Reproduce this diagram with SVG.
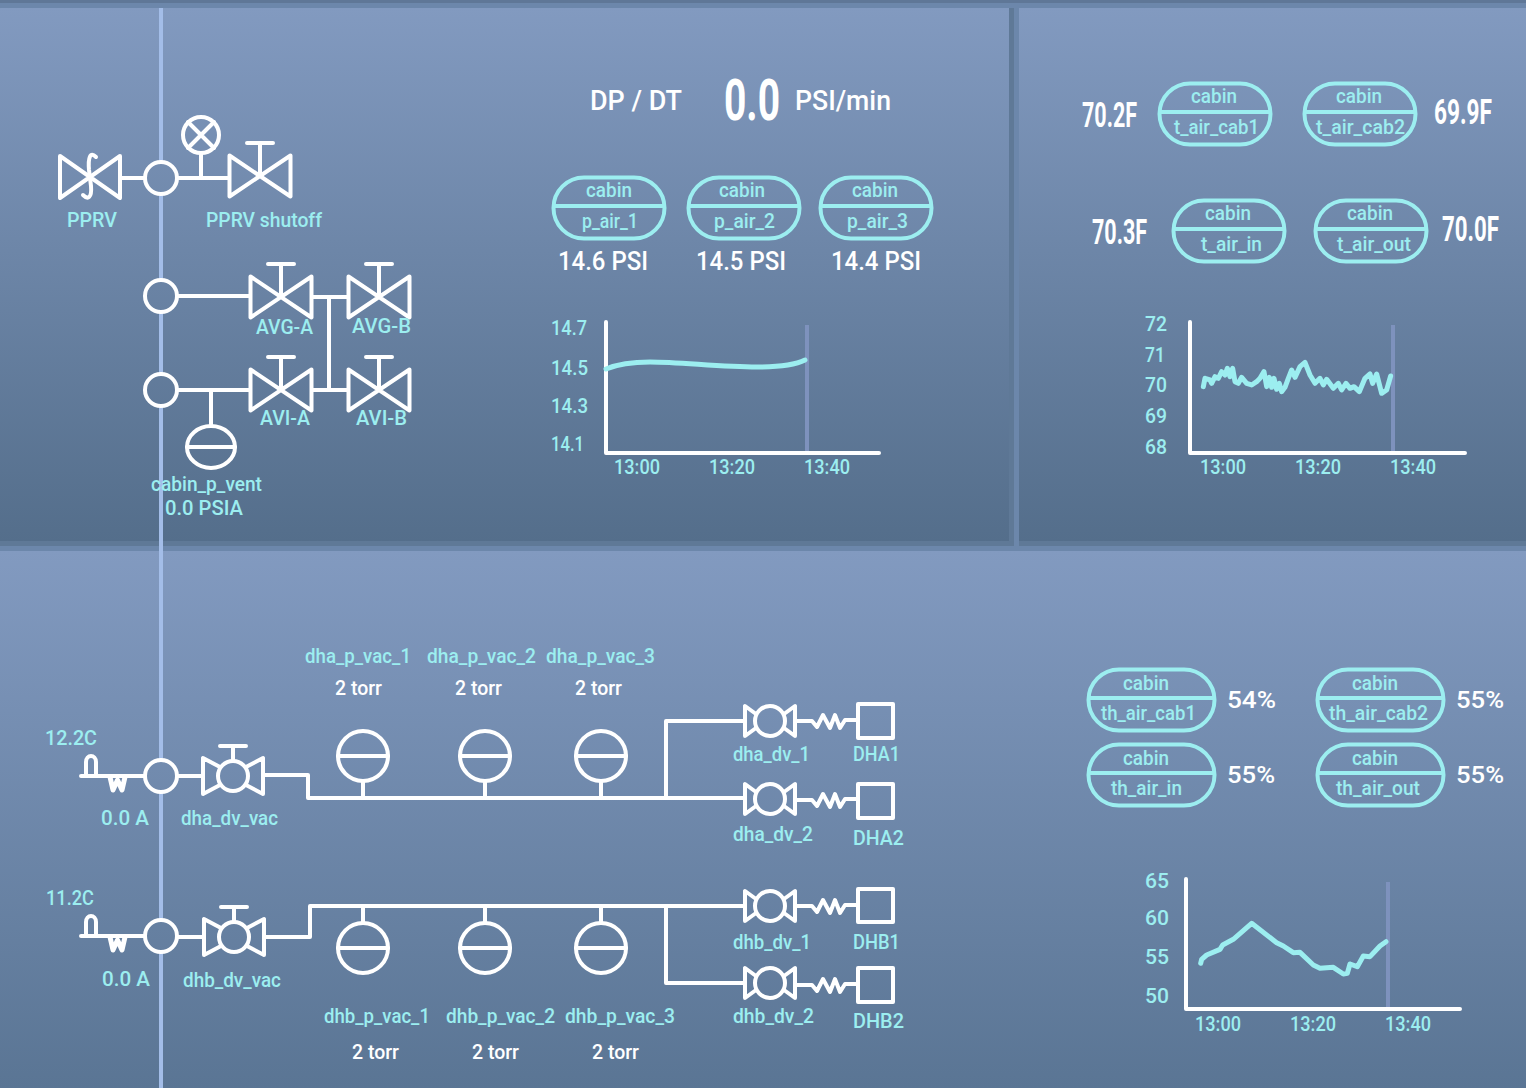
<svg xmlns="http://www.w3.org/2000/svg" width="1526" height="1088" viewBox="0 0 1526 1088">
<style>
text{font-family:Roboto,"Liberation Sans",sans-serif;font-size:20px;font-weight:500;fill:#9ceef0}
.w{fill:#fff}
.p{fill:none;stroke:#fff;stroke-width:4;stroke-linejoin:round;stroke-linecap:round}
.c{fill:none;stroke:#9ceef0;stroke-width:4}
.bus{fill:none;stroke:#a3bde8;stroke-width:4}
.cur{fill:none;stroke:#7e92bd;stroke-width:4}
.tr{fill:none;stroke:#9ceef0;stroke-linejoin:round;stroke-linecap:round}
.t25{font-size:25px}.t28{font-size:28px}.t30{font-size:35px;font-weight:700}.t52{font-size:58px;font-weight:700}.t24{font-size:24px}
</style>
<defs>
<linearGradient id="g1" x1="0" y1="0" x2="0" y2="1"><stop offset="0" stop-color="#829ac0"/><stop offset="1" stop-color="#546e8b"/></linearGradient>
<linearGradient id="g2" x1="0" y1="0" x2="0" y2="1"><stop offset="0" stop-color="#829ac0"/><stop offset="1" stop-color="#5a7594"/></linearGradient>
<g id="gate" class="p"><path d="M-30.5,-20.5 L30.5,20.5 V-20.5 L-30.5,20.5 Z M0,0 V-33 M-13,-33 H13"/></g>
<g id="ball" class="p"><circle r="15"/><path d="M-13,-9 L-30,-18 V18 L-13,9 M13,-9 L30,-18 V18 L13,9 M0,-15 V-30 M-13,-30 H13"/></g>
<g id="ball2" class="p"><circle r="15"/><path d="M-14,-7 L-25,-15 V15 L-14,7 M14,-7 L25,-15 V15 L14,7"/></g>
<g id="spring" class="p"><path d="M0,0 H16 L21,6 L27,-6 L34,7 L39,-6 L44,7 L49,-1 H62"/></g>
<g id="gauge" class="p"><circle r="25"/><path d="M-25,0 H25"/></g>
<g id="heat" class="p"><path d="M0,0 H64 M5,0 V-14 C5,-22 15,-22 15,-14 V0"/><path stroke-width="5" stroke-linecap="butt" d="M29,1 L32,14 L36.5,4 L41,14 L44,1"/></g>
<g id="pill" class="c"><rect x="1.5" y="1.5" width="111" height="61" rx="30.5"/><path d="M1,30 H113"/></g>
<g id="pillw" class="c"><rect x="1.5" y="1.5" width="126" height="61" rx="30.5"/><path d="M1,30 H128"/></g>
</defs>

<g id="background">
<rect width="1526" height="1088" fill="#6c87ab"/>
<rect y="0" width="1526" height="3" fill="#5f7797"/>
<rect x="0" y="8" width="1014" height="538" fill="#5f7997"/>
<rect x="1019" y="8" width="507" height="538" fill="#5f7997"/>
<rect x="0" y="8" width="1009" height="533" fill="url(#g1)"/>
<rect x="1019" y="8" width="507" height="533" fill="url(#g1)"/>
<rect x="0" y="551" width="1526" height="537" fill="url(#g2)"/>
</g>

<g id="connectors">
<path class="bus" d="M161,8 V162 M161,194 V280 M161,312 V374 M161,406 V760 M161,792 V920 M161,952 V1088"/>
<path class="p" d="M121,178 H145 M177,178 H229 M201,153 V178 M177,296 H250 M313,297 H348 M329,297 V390 M177,390 H250 M313,390 H348 M211,390 V426"/>
<path class="p" d="M177,776 H203 M265,775 H308 V798 H744 M363,782 V798 M485,782 V798 M601,782 V798 M666,798 V721 H744"/>
<path class="p" d="M177,937 H204 M266,937 H310 V906 H744 M363,906 V922 M485,906 V922 M601,906 V922 M666,906 V983 H744"/>
</g>

<g id="cabin-junctions" class="p">
<circle cx="161" cy="178" r="16"/><circle cx="161" cy="296" r="16"/><circle cx="161" cy="390" r="16"/>
<circle cx="161" cy="776" r="16"/><circle cx="161" cy="936" r="16"/>
</g>

<g id="PPRV"><g class="p"><path d="M60,156 L120,198 V156 L60,198 Z"/><path d="M96,157 C90,151 88,158 89,170 L91,186 C92,198 88,200 83,195"/></g><text lengthAdjust="spacingAndGlyphs" x="67" y="227" textLength="50">PPRV</text></g>
<g id="pprv-indicator" class="p"><circle cx="201" cy="135" r="18"/><path d="M188,122 L214,148 M214,122 L188,148"/></g>
<g id="PPRV-shutoff"><use href="#gate" x="260" y="176"/><text lengthAdjust="spacingAndGlyphs" x="206" y="227" textLength="116">PPRV shutoff</text></g>
<g id="AVG-A"><use href="#gate" x="281" y="297"/><text lengthAdjust="spacingAndGlyphs" x="256" y="334" textLength="57">AVG-A</text></g>
<g id="AVG-B"><use href="#gate" x="379" y="297"/><text lengthAdjust="spacingAndGlyphs" x="352" y="333" textLength="59">AVG-B</text></g>
<g id="AVI-A"><use href="#gate" x="281" y="390"/><text lengthAdjust="spacingAndGlyphs" x="260" y="425" textLength="50">AVI-A</text></g>
<g id="AVI-B"><use href="#gate" x="379" y="390"/><text lengthAdjust="spacingAndGlyphs" x="356" y="425" textLength="51">AVI-B</text></g>
<g id="cabin_p_vent"><g class="p"><ellipse cx="211" cy="447" rx="24" ry="21"/><path d="M187,447 H235"/></g><text lengthAdjust="spacingAndGlyphs" x="151" y="491" textLength="111">cabin_p_vent</text><text lengthAdjust="spacingAndGlyphs" x="165" y="515" textLength="78">0.0 PSIA</text></g>

<g id="dpdt">
<text lengthAdjust="spacingAndGlyphs" class="w t28" x="590" y="110" textLength="92">DP / DT</text>
<text lengthAdjust="spacingAndGlyphs" class="w t52" x="724" y="120" textLength="56">0.0</text>
<text lengthAdjust="spacingAndGlyphs" class="w t28" x="795" y="110" textLength="96">PSI/min</text>
</g>

<g id="p_air_1"><use href="#pill" x="552" y="176"/><text lengthAdjust="spacingAndGlyphs" x="586" y="197" textLength="46">cabin</text><text lengthAdjust="spacingAndGlyphs" x="582" y="228" textLength="56">p_air_1</text><text lengthAdjust="spacingAndGlyphs" class="w t25" x="558" y="270" textLength="90">14.6 PSI</text></g>
<g id="p_air_2"><use href="#pill" x="687" y="176"/><text lengthAdjust="spacingAndGlyphs" x="719" y="197" textLength="46">cabin</text><text lengthAdjust="spacingAndGlyphs" x="714" y="228" textLength="61">p_air_2</text><text lengthAdjust="spacingAndGlyphs" class="w t25" x="696" y="270" textLength="90">14.5 PSI</text></g>
<g id="p_air_3"><use href="#pill" x="819" y="176"/><text lengthAdjust="spacingAndGlyphs" x="852" y="197" textLength="46">cabin</text><text lengthAdjust="spacingAndGlyphs" x="847" y="228" textLength="61">p_air_3</text><text lengthAdjust="spacingAndGlyphs" class="w t25" x="831" y="270" textLength="90">14.4 PSI</text></g>

<g id="chart-pressure">
<path class="cur" d="M807,325 V453"/>
<path class="p" d="M606,322 V453 H879"/>
<path class="tr" stroke-width="5" d="M606,369 C618,364 632,362 650,362 C680,362 720,367 757,367 C780,367 795,365 805,360"/>
<text lengthAdjust="spacingAndGlyphs" x="551" y="335" textLength="36">14.7</text><text lengthAdjust="spacingAndGlyphs" x="551" y="375" textLength="37">14.5</text><text lengthAdjust="spacingAndGlyphs" x="551" y="413" textLength="37">14.3</text><text lengthAdjust="spacingAndGlyphs" x="551" y="451" textLength="33">14.1</text>
<text lengthAdjust="spacingAndGlyphs" x="614" y="474" textLength="46">13:00</text><text lengthAdjust="spacingAndGlyphs" x="709" y="474" textLength="46">13:20</text><text lengthAdjust="spacingAndGlyphs" x="804" y="474" textLength="46">13:40</text>
</g>

<g id="t_air_cab1"><use href="#pill" x="1158" y="82"/><text lengthAdjust="spacingAndGlyphs" x="1191" y="103" textLength="46">cabin</text><text lengthAdjust="spacingAndGlyphs" x="1174" y="134" textLength="85">t_air_cab1</text><text lengthAdjust="spacingAndGlyphs" class="w t30" x="1082" y="127" textLength="55">70.2F</text></g>
<g id="t_air_cab2"><use href="#pill" x="1303" y="82"/><text lengthAdjust="spacingAndGlyphs" x="1336" y="103" textLength="46">cabin</text><text lengthAdjust="spacingAndGlyphs" x="1316" y="134" textLength="89">t_air_cab2</text><text lengthAdjust="spacingAndGlyphs" class="w t30" x="1434" y="124" textLength="58">69.9F</text></g>
<g id="t_air_in"><use href="#pill" x="1172" y="199"/><text lengthAdjust="spacingAndGlyphs" x="1205" y="220" textLength="46">cabin</text><text lengthAdjust="spacingAndGlyphs" x="1201" y="251" textLength="61">t_air_in</text><text lengthAdjust="spacingAndGlyphs" class="w t30" x="1092" y="244" textLength="55">70.3F</text></g>
<g id="t_air_out"><use href="#pill" x="1314" y="199"/><text lengthAdjust="spacingAndGlyphs" x="1347" y="220" textLength="46">cabin</text><text lengthAdjust="spacingAndGlyphs" x="1337" y="251" textLength="74">t_air_out</text><text lengthAdjust="spacingAndGlyphs" class="w t30" x="1442" y="241" textLength="57">70.0F</text></g>

<g id="chart-temperature">
<path class="cur" d="M1393,325 V453"/>
<path class="p" d="M1190,322 V453 H1465"/>
<path class="tr" stroke-width="15" transform="translate(1170,300) scale(.3333)" d="M100,260 L105,235 L120,240 L125,250 L135,230 L145,235 L155,215 L165,225 L172,205 L180,230 L188,205 L195,245 L205,250 L215,232 L230,250 L245,255 L260,245 L270,235 L282,215 L290,260 L298,232 L305,262 L312,235 L320,268 L328,250 L335,275 L345,262 L355,235 L365,210 L375,232 L390,200 L405,187 L420,225 L435,250 L450,235 L460,255 L470,238 L490,265 L505,250 L515,270 L528,250 L540,265 L552,260 L568,275 L585,235 L600,222 L608,250 L620,222 L635,280 L650,270 L662,228"/>
<text lengthAdjust="spacingAndGlyphs" x="1145" y="331" textLength="22">72</text><text lengthAdjust="spacingAndGlyphs" x="1145" y="362" textLength="20">71</text><text lengthAdjust="spacingAndGlyphs" x="1145" y="392" textLength="22">70</text><text lengthAdjust="spacingAndGlyphs" x="1145" y="423" textLength="22">69</text><text lengthAdjust="spacingAndGlyphs" x="1145" y="454" textLength="22">68</text>
<text lengthAdjust="spacingAndGlyphs" x="1200" y="474" textLength="46">13:00</text><text lengthAdjust="spacingAndGlyphs" x="1295" y="474" textLength="46">13:20</text><text lengthAdjust="spacingAndGlyphs" x="1390" y="474" textLength="46">13:40</text>
</g>

<g id="dha-heater"><use href="#heat" x="81" y="776"/><text lengthAdjust="spacingAndGlyphs" x="45" y="745" textLength="52">12.2C</text><text lengthAdjust="spacingAndGlyphs" x="101" y="825" textLength="48">0.0 A</text></g>
<g id="dha_dv_vac"><use href="#ball" x="233" y="776"/><text lengthAdjust="spacingAndGlyphs" x="181" y="825" textLength="97">dha_dv_vac</text></g>
<g id="dha_p_vac_1"><use href="#gauge" x="363" y="756"/><text lengthAdjust="spacingAndGlyphs" x="305" y="663" textLength="106">dha_p_vac_1</text><text lengthAdjust="spacingAndGlyphs" x="335" y="695" class="w" textLength="47">2 torr</text></g>
<g id="dha_p_vac_2"><use href="#gauge" x="485" y="756"/><text lengthAdjust="spacingAndGlyphs" x="427" y="663" textLength="109">dha_p_vac_2</text><text lengthAdjust="spacingAndGlyphs" x="455" y="695" class="w" textLength="47">2 torr</text></g>
<g id="dha_p_vac_3"><use href="#gauge" x="601" y="756"/><text lengthAdjust="spacingAndGlyphs" x="546" y="663" textLength="109">dha_p_vac_3</text><text lengthAdjust="spacingAndGlyphs" x="575" y="695" class="w" textLength="47">2 torr</text></g>
<g id="dha_dv_1"><use href="#ball2" x="770" y="721"/><use href="#spring" x="796" y="721"/><text lengthAdjust="spacingAndGlyphs" x="733" y="761" textLength="77">dha_dv_1</text></g>
<g id="dha_dv_2"><use href="#ball2" x="770" y="799"/><use href="#spring" x="796" y="800"/><text lengthAdjust="spacingAndGlyphs" x="733" y="841" textLength="80">dha_dv_2</text></g>
<g id="DHA1"><rect class="p" x="858" y="704" width="35" height="34"/><text lengthAdjust="spacingAndGlyphs" x="853" y="761" textLength="47">DHA1</text></g>
<g id="DHA2"><rect class="p" x="858" y="784" width="35" height="34"/><text lengthAdjust="spacingAndGlyphs" x="853" y="845" textLength="51">DHA2</text></g>

<g id="dhb-heater"><use href="#heat" x="81" y="936"/><text lengthAdjust="spacingAndGlyphs" x="46" y="905" textLength="48">11.2C</text><text lengthAdjust="spacingAndGlyphs" x="102" y="986" textLength="48">0.0 A</text></g>
<g id="dhb_dv_vac"><use href="#ball" x="234" y="937"/><text lengthAdjust="spacingAndGlyphs" x="183" y="987" textLength="98">dhb_dv_vac</text></g>
<g id="dhb_p_vac_1"><use href="#gauge" x="363" y="948"/><text lengthAdjust="spacingAndGlyphs" x="324" y="1023" textLength="106">dhb_p_vac_1</text><text lengthAdjust="spacingAndGlyphs" x="352" y="1059" class="w" textLength="47">2 torr</text></g>
<g id="dhb_p_vac_2"><use href="#gauge" x="485" y="948"/><text lengthAdjust="spacingAndGlyphs" x="446" y="1023" textLength="109">dhb_p_vac_2</text><text lengthAdjust="spacingAndGlyphs" x="472" y="1059" class="w" textLength="47">2 torr</text></g>
<g id="dhb_p_vac_3"><use href="#gauge" x="601" y="948"/><text lengthAdjust="spacingAndGlyphs" x="565" y="1023" textLength="110">dhb_p_vac_3</text><text lengthAdjust="spacingAndGlyphs" x="592" y="1059" class="w" textLength="47">2 torr</text></g>
<g id="dhb_dv_1"><use href="#ball2" x="770" y="906"/><use href="#spring" x="796" y="906"/><text lengthAdjust="spacingAndGlyphs" x="733" y="949" textLength="78">dhb_dv_1</text></g>
<g id="dhb_dv_2"><use href="#ball2" x="770" y="983"/><use href="#spring" x="796" y="985"/><text lengthAdjust="spacingAndGlyphs" x="733" y="1023" textLength="81">dhb_dv_2</text></g>
<g id="DHB1"><rect class="p" x="858" y="889" width="35" height="33"/><text lengthAdjust="spacingAndGlyphs" x="853" y="949" textLength="47">DHB1</text></g>
<g id="DHB2"><rect class="p" x="858" y="968" width="35" height="34"/><text lengthAdjust="spacingAndGlyphs" x="853" y="1028" textLength="51">DHB2</text></g>

<g id="th_air_cab1"><use href="#pillw" x="1087" y="668"/><text lengthAdjust="spacingAndGlyphs" x="1123" y="690" textLength="46">cabin</text><text lengthAdjust="spacingAndGlyphs" x="1101" y="720" textLength="95">th_air_cab1</text><text lengthAdjust="spacingAndGlyphs" class="w t24" x="1227" y="708" textLength="49">54%</text></g>
<g id="th_air_cab2"><use href="#pillw" x="1316" y="668"/><text lengthAdjust="spacingAndGlyphs" x="1352" y="690" textLength="46">cabin</text><text lengthAdjust="spacingAndGlyphs" x="1329" y="720" textLength="99">th_air_cab2</text><text lengthAdjust="spacingAndGlyphs" class="w t24" x="1456" y="708" textLength="48">55%</text></g>
<g id="th_air_in"><use href="#pillw" x="1087" y="743"/><text lengthAdjust="spacingAndGlyphs" x="1123" y="765" textLength="46">cabin</text><text lengthAdjust="spacingAndGlyphs" x="1111" y="795" textLength="71">th_air_in</text><text lengthAdjust="spacingAndGlyphs" class="w t24" x="1227" y="783" textLength="48">55%</text></g>
<g id="th_air_out"><use href="#pillw" x="1316" y="743"/><text lengthAdjust="spacingAndGlyphs" x="1352" y="765" textLength="46">cabin</text><text lengthAdjust="spacingAndGlyphs" x="1336" y="795" textLength="84">th_air_out</text><text lengthAdjust="spacingAndGlyphs" class="w t24" x="1456" y="783" textLength="48">55%</text></g>

<g id="chart-humidity">
<path class="cur" d="M1388,882 V1009"/>
<path class="p" d="M1186,879 V1009 H1460"/>
<path class="tr" stroke-width="15" transform="translate(1130,860) scale(.3333)" d="M212,310 L215,298 L230,285 L270,268 L278,255 L310,238 L365,190 L440,248 L460,258 L490,278 L510,277 L550,315 L570,325 L610,322 L640,342 L652,340 L660,312 L682,320 L700,288 L720,290 L750,258 L768,245"/>
<text lengthAdjust="spacingAndGlyphs" x="1145" y="888" textLength="24">65</text><text lengthAdjust="spacingAndGlyphs" x="1145" y="925" textLength="24">60</text><text lengthAdjust="spacingAndGlyphs" x="1145" y="964" textLength="24">55</text><text lengthAdjust="spacingAndGlyphs" x="1145" y="1003" textLength="24">50</text>
<text lengthAdjust="spacingAndGlyphs" x="1195" y="1031" textLength="46">13:00</text><text lengthAdjust="spacingAndGlyphs" x="1290" y="1031" textLength="46">13:20</text><text lengthAdjust="spacingAndGlyphs" x="1385" y="1031" textLength="46">13:40</text>
</g>
</svg>
